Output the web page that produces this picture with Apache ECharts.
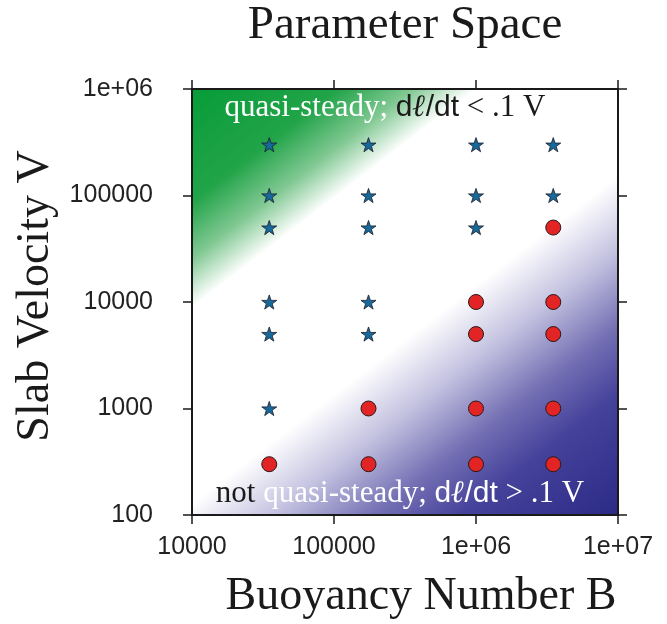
<!DOCTYPE html>
<html>
<head>
<meta charset="utf-8">
<script src="https://cdn.jsdelivr.net/npm/echarts@6/dist/echarts.min.js"></script>
<style>html,body{margin:0;padding:0;background:#fff;}#c{width:667px;height:624px;}</style>
</head>
<body>
<div id="c"></div>
<script>
// Buoyancy numbers (x) and slab velocities (y) of the runs
const quasiSteadyRuns = [
  [3.5e4, 3e5], [3.5e4, 1e5], [3.5e4, 5e4], [3.5e4, 1e4], [3.5e4, 5e3], [3.5e4, 1e3],
  [1.75e5, 3e5], [1.75e5, 1e5], [1.75e5, 5e4], [1.75e5, 1e4], [1.75e5, 5e3],
  [1e6, 3e5], [1e6, 1e5], [1e6, 5e4],
  [3.5e6, 3e5], [3.5e6, 1e5]
];
const notQuasiSteadyRuns = [
  [3.5e4, 300],
  [1.75e5, 1e3], [1.75e5, 300],
  [1e6, 1e4], [1e6, 5e3], [1e6, 1e3], [1e6, 300],
  [3.5e6, 5e4], [3.5e6, 1e4], [3.5e6, 5e3], [3.5e6, 1e3], [3.5e6, 300]
];
const xRange = [1e4, 1e7];
const yRange = [100, 1e6];
const titleText = 'Parameter Space';
const xName = 'Buoyancy Number B';
const yName = 'Slab Velocity V';

const G = {left: 192, top: 89, width: 426, height: 426};
const fmt = v => v >= 1e6 ? '1e+0' + Math.round(Math.log10(v)) : String(Math.round(v));
const starPath = 'path://M50,0 L61.8,35.1 L98.1,35.1 L68.8,56.8 L79.4,91.0 L50,70 L20.6,91.0 L31.2,56.8 L1.9,35.1 L38.2,35.1 Z';

const bg = new echarts.graphic.LinearGradient(0, 0, 0.855, 1.111, [
  {offset: 0, color: '#079c38'},
  {offset: 0.15, color: '#22a449'},
  {offset: 0.225, color: '#80c892'},
  {offset: 0.29, color: '#ffffff'},
  {offset: 0.55, color: '#ffffff'},
  {offset: 0.65, color: '#c2c0df'},
  {offset: 0.75, color: '#7470b4'},
  {offset: 0.84, color: '#45429b'},
  {offset: 1, color: '#2b2a85'}
]);

const axisLine = {show: true, onZero: false, lineStyle: {color: '#1a1a1a', width: 2}};
const axisTick = {show: true, inside: false, length: 9, lineStyle: {color: '#1a1a1a', width: 1.5}};
const tickFont = {color: '#222', fontFamily: 'Liberation Sans', fontSize: 25};

const chart = echarts.init(document.getElementById('c'), null, {renderer: 'canvas'});
chart.setOption({
  animation: false,
  grid: Object.assign({show: true, backgroundColor: bg, borderWidth: 0, containLabel: false}, G),
  xAxis: [
    {type: 'log', logBase: 10, min: xRange[0], max: xRange[1], position: 'bottom',
     axisLine, axisTick, splitLine: {show: false},
     axisLabel: Object.assign({margin: 20, formatter: fmt, showMinLabel: true, showMaxLabel: true}, tickFont)},
    {type: 'log', logBase: 10, min: xRange[0], max: xRange[1], position: 'top',
     axisLine, axisTick, splitLine: {show: false}, axisLabel: {show: false}}
  ],
  yAxis: [
    {type: 'log', logBase: 10, min: yRange[0], max: yRange[1], position: 'left',
     axisLine, axisTick, splitLine: {show: false},
     axisLabel: Object.assign({margin: 39, formatter: fmt, showMinLabel: true, showMaxLabel: true}, tickFont)},
    {type: 'log', logBase: 10, min: yRange[0], max: yRange[1], position: 'right',
     axisLine, axisTick, splitLine: {show: false}, axisLabel: {show: false}}
  ],
  series: [
    {type: 'scatter', data: quasiSteadyRuns, symbol: starPath, symbolSize: 15, symbolKeepAspect: true,
     itemStyle: {color: '#17699a', borderColor: '#1a1a2a', borderWidth: 0.8, opacity: 1}, z: 5},
    {type: 'scatter', data: notQuasiSteadyRuns, symbol: 'circle', symbolSize: 15,
     itemStyle: {color: '#e32424', borderColor: '#2a1a1a', borderWidth: 1, opacity: 1}, z: 5}
  ],
  graphic: [
    {type: 'text', x: 405, y: 26, style: {text: titleText, fill: '#1a1a1a',
      font: '47px "Liberation Serif"', textAlign: 'center', textVerticalAlign: 'middle'}},
    {type: 'text', x: 421, y: 597, style: {text: xName, fill: '#1a1a1a',
      font: '46px "Liberation Serif"', textAlign: 'center', textVerticalAlign: 'middle'}},
    {type: 'text', x: 36, y: 296, rotation: Math.PI / 2, style: {text: yName, fill: '#1a1a1a',
      font: '46px "Liberation Serif"', textAlign: 'center', textVerticalAlign: 'middle'}},
    {type: 'text', x: 385, y: 108, z: 10, style: {
      text: '{w|quasi-steady;}{k| }{ks|d}{kl|ℓ}{ks|/dt}{k| < .1 V}',
      textAlign: 'center', textVerticalAlign: 'middle',
      rich: {
        w: {fill: '#ffffff', fontFamily: 'Liberation Serif', fontSize: 31},
        k: {fill: '#1a1a1a', fontFamily: 'Liberation Serif', fontSize: 31},
        ks: {fill: '#1a1a1a', fontFamily: 'Liberation Sans', fontSize: 30},
        kl: {fill: '#1a1a1a', fontFamily: 'Liberation Serif', fontSize: 31, fontWeight: 'bold', fontStyle: 'italic'}
      }}},
    {type: 'text', x: 400, y: 494, z: 10, style: {
      text: '{k|not }{w|quasi-steady; }{ws|d}{wl|ℓ}{ws|/dt}{w| > .1 V}',
      textAlign: 'center', textVerticalAlign: 'middle',
      rich: {
        w: {fill: '#ffffff', fontFamily: 'Liberation Serif', fontSize: 31},
        k: {fill: '#1a1a1a', fontFamily: 'Liberation Serif', fontSize: 31},
        ws: {fill: '#ffffff', fontFamily: 'Liberation Sans', fontSize: 30},
        wl: {fill: '#ffffff', fontFamily: 'Liberation Serif', fontSize: 31, fontWeight: 'bold', fontStyle: 'italic'}
      }}}
  ]
});
</script>
</body>
</html>
